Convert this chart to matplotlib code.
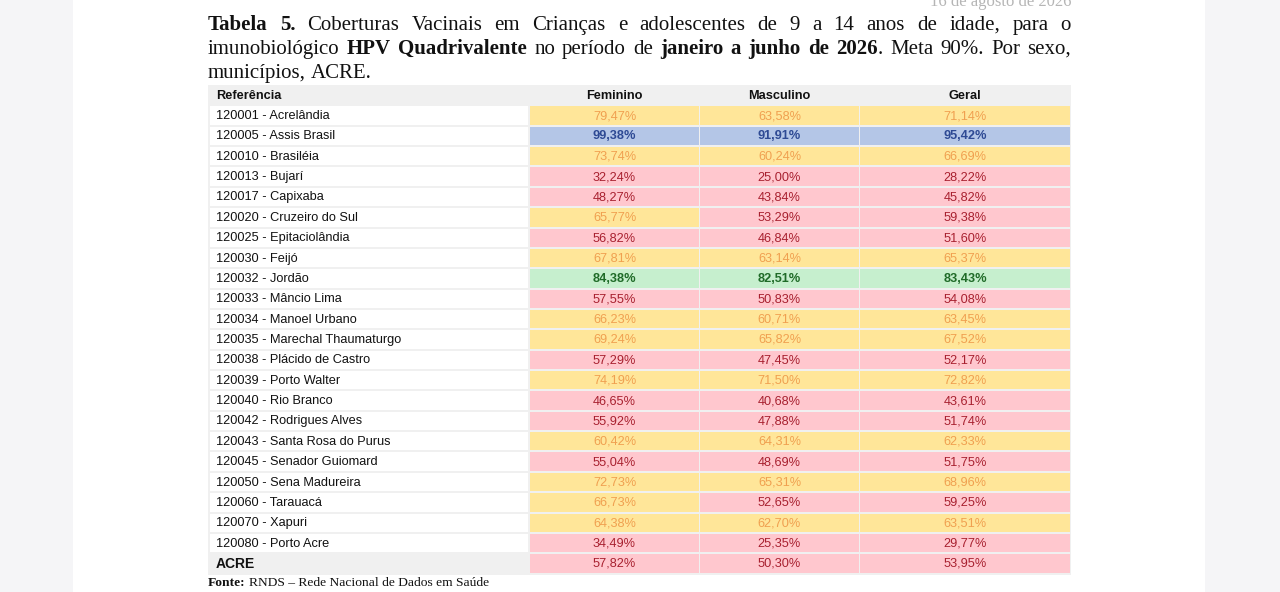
import numpy as np
import matplotlib
matplotlib.use("Agg")
import matplotlib.pyplot as plt
from matplotlib.patches import Rectangle
from matplotlib import font_manager

municipios = [
    "120001 - Acrelândia", "120005 - Assis Brasil", "120010 - Brasiléia",
    "120013 - Bujarí", "120017 - Capixaba", "120020 - Cruzeiro do Sul",
    "120025 - Epitaciolândia", "120030 - Feijó", "120032 - Jordão",
    "120033 - Mâncio Lima", "120034 - Manoel Urbano",
    "120035 - Marechal Thaumaturgo", "120038 - Plácido de Castro",
    "120039 - Porto Walter", "120040 - Rio Branco", "120042 - Rodrigues Alves",
    "120043 - Santa Rosa do Purus", "120045 - Senador Guiomard",
    "120050 - Sena Madureira", "120060 - Tarauacá", "120070 - Xapuri",
    "120080 - Porto Acre", "ACRE",
]
feminino = [79.47, 99.38, 73.74, 32.24, 48.27, 65.77, 56.82, 67.81, 84.38,
            57.55, 66.23, 69.24, 57.29, 74.19, 46.65, 55.92, 60.42, 55.04,
            72.73, 66.73, 64.38, 34.49, 57.82]
masculino = [63.58, 91.91, 60.24, 25.00, 43.84, 53.29, 46.84, 63.14, 82.51,
             50.83, 60.71, 65.82, 47.45, 71.50, 40.68, 47.88, 64.31, 48.69,
             65.31, 52.65, 62.70, 25.35, 50.30]
geral = [71.14, 95.42, 66.69, 28.22, 45.82, 59.38, 51.60, 65.37, 83.43,
         54.08, 63.45, 67.52, 52.17, 72.82, 43.61, 51.74, 62.33, 51.75,
         68.96, 59.25, 63.51, 29.77, 53.95]
colunas = ["Feminino", "Masculino", "Geral"]

title_lines = [
    [[("Tabela", True)], [("5.", True)], [("Coberturas", False)], [("Vacinais", False)],
     [("em", False)], [("Crianças", False)], [("e", False)], [("adolescentes", False)],
     [("de", False)], [("9", False)], [("a", False)], [("14", False)], [("anos", False)],
     [("de", False)], [("idade,", False)], [("para", False)], [("o", False)]],
    [[("imunobiológico", False)], [("HPV", True)], [("Quadrivalente", True)],
     [("no", False)], [("período", False)], [("de", False)], [("janeiro", True)],
     [("a", True)], [("junho", True)], [("de", True)], [("2026", True), (".", False)],
     [("Meta", False)], [("90%.", False)], [("Por", False)], [("sexo,", False)]],
    [[("municípios,", False)], [("ACRE.", False)]],
]


def pick_font(names):
    for n in names:
        try:
            font_manager.findfont(n, fallback_to_default=False)
            return n
        except Exception:
            pass
    return "DejaVu Sans"


narrow = pick_font(["Liberation Sans Narrow", "Arial Narrow"])
tsize = 10.8
if narrow == "DejaVu Sans":
    narrow = pick_font(["Liberation Sans", "Roboto"])
    tsize = 9.2
serif = "Liberation Serif"


def classify(v):
    # faixas de cobertura (meta 90%)
    if v >= 90:
        return "#b4c6e7", "#2e4a94", "bold"
    if v >= 80:
        return "#c6efce", "#1f6b28", "bold"
    if v >= 60:
        return "#ffe699", "#f0a050", "normal"
    return "#ffc7ce", "#a8202f", "normal"


fig = plt.figure(figsize=(12.8, 5.92), dpi=100)
ax = fig.add_axes([0, 0, 1, 1])
ax.set_xlim(0, 1280)
ax.set_ylim(592, 0)
ax.axis("off")
fig.patch.set_facecolor("#f5f5f7")
ax.add_patch(Rectangle((73, 0), 1132, 592, facecolor="white", edgecolor="none"))

# date header (cut at top like the page scan)
ax.text(1071, 2, "16 de agosto de 2026", ha="right", va="center",
        family=serif, fontsize=12, color="#b5b5b5")

# justified title
renderer = fig.canvas.get_renderer()
x0, x1 = 208, 1071
for li, words in enumerate(title_lines):
    y = 30 + li * 24
    widths = []
    for word in words:
        w = 0
        for txt, b in word:
            t = ax.text(0, 0, txt, family=serif, fontsize=15,
                        weight="bold" if b else "normal")
            w += t.get_window_extent(renderer).width
            t.remove()
        widths.append(w)
    if li < len(title_lines) - 1:
        gap = (x1 - x0 - sum(widths)) / (len(words) - 1)
    else:
        gap = 5
    x = x0
    for word, w in zip(words, widths):
        xx = x
        for txt, b in word:
            t = ax.text(xx, y, txt, family=serif, fontsize=15, va="baseline",
                        weight="bold" if b else "normal", color="#111111")
            xx += t.get_window_extent(renderer).width
        x += w + gap

# table
top, row_h = 85, 20.36
ax.add_patch(Rectangle((208, top - 0.5), 863, 490, facecolor="#f0f0f0", edgecolor="none"))
col_x = [(530, 169), (700, 159), (860, 210)]
label_x = (210, 318)

hy = top + row_h / 2 + 0.5
ax.text(216, hy, "Referência", ha="left", va="center", family=narrow,
        fontsize=tsize, weight="bold", color="#111111")
for (cx, cw), name in zip(col_x, colunas):
    ax.text(cx + cw / 2, hy, name, ha="center", va="center", family=narrow,
            fontsize=tsize, weight="bold", color="#111111")

n = len(municipios)
for i, nome in enumerate(municipios):
    ry = top + row_h * (i + 1)
    cy = ry + row_h / 2 + 0.5
    is_total = i == n - 1
    if not is_total:
        ax.add_patch(Rectangle((label_x[0], ry + 1), label_x[1], row_h - 2,
                               facecolor="white", edgecolor="none"))
    ax.text(216, cy, nome, ha="left", va="center", family=narrow,
            fontsize=tsize + (0.8 if is_total else 0),
            weight="bold" if is_total else "normal", color="#111111")
    for (cx, cw), v in zip(col_x, (feminino[i], masculino[i], geral[i])):
        bg, fg, wt = classify(v)
        ax.add_patch(Rectangle((cx, ry + 1), cw, row_h - 2,
                               facecolor=bg, edgecolor="none"))
        ax.text(cx + cw / 2, cy, f"{v:.2f}".replace(".", ",") + "%",
                ha="center", va="center", family=narrow, fontsize=tsize,
                weight=wt, color=fg)

# source
t = ax.text(208, 586, "Fonte:", family=serif, fontsize=9.7, weight="bold",
            va="baseline", color="#111111")
w = t.get_window_extent(renderer).width
ax.text(208 + w + 3, 586, "RNDS – Rede Nacional de Dados em Saúde", family=serif,
        fontsize=9.7, va="baseline", color="#111111")

fig.savefig("out.png", dpi=100, facecolor=fig.get_facecolor())
